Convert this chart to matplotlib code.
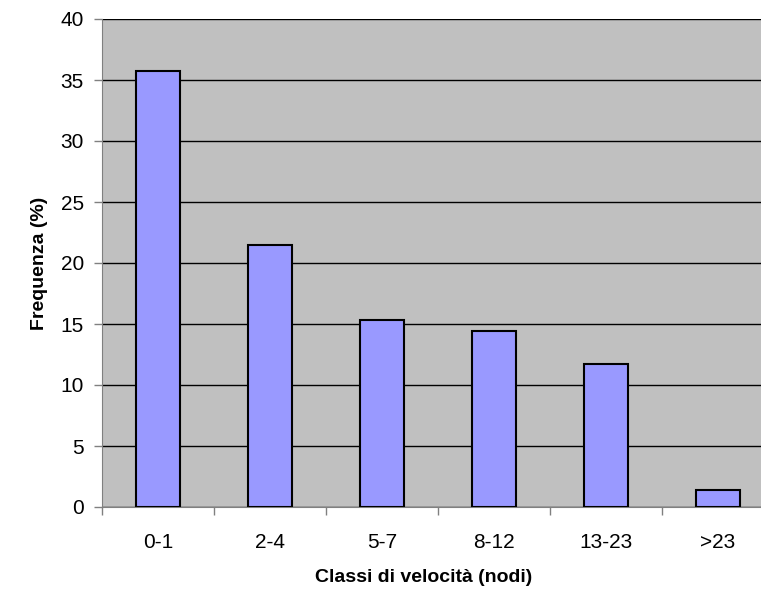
import matplotlib
matplotlib.use("Agg")
import matplotlib.pyplot as plt
import numpy as np

categories = ["0-1", "2-4", "5-7", "8-12", "13-23", ">23"]
values = [35.7, 21.5, 15.35, 14.4, 11.75, 1.4]
y_ticks = [0, 5, 10, 15, 20, 25, 30, 35, 40]

plt.rcParams['font.family'] = ['Liberation Sans', 'DejaVu Sans']

fig = plt.figure(figsize=(7.61, 5.92), dpi=100)
ax = fig.add_axes([102/761, 1-507/592, 672/761, (507-19)/592])
ax.set_facecolor('#C0C0C0')

x = np.arange(len(categories))
ax.set_axisbelow(True)
ax.yaxis.grid(True, color='black', linewidth=1.0)
ax.bar(x, values, width=0.4, color='#9999FF', edgecolor='black', linewidth=1.5, zorder=3)

ax.set_xlim(-0.5, len(categories) - 0.5)
ax.set_ylim(0, 40)
ax.set_yticks(y_ticks)
ax.set_xticks(x)
ax.set_xticklabels(categories, fontsize=15)
ax.tick_params(axis='x', which='major', length=0, pad=19)
ax.set_xticks(np.arange(-0.5, len(categories), 1.0), minor=True)
ax.tick_params(axis='x', which='minor', length=6, color='#808080', width=1)
ax.tick_params(axis='y', length=6, color='#808080', width=1, labelsize=15, pad=7)

for s in ['top', 'right']:
    ax.spines[s].set_visible(False)
ax.spines['left'].set_color('#808080')
ax.spines['bottom'].set_color('#808080')

ax.set_xlabel('Classi di velocità (nodi)', fontsize=14, fontweight='bold')
ax.xaxis.set_label_coords((424 - 102) / 672, -(577 - 507) / 488)
ax.xaxis.label.set_verticalalignment('center')
ax.set_ylabel('Frequenza (%)', fontsize=14, fontweight='bold', labelpad=9)

fig.savefig('out.png', dpi=100)
